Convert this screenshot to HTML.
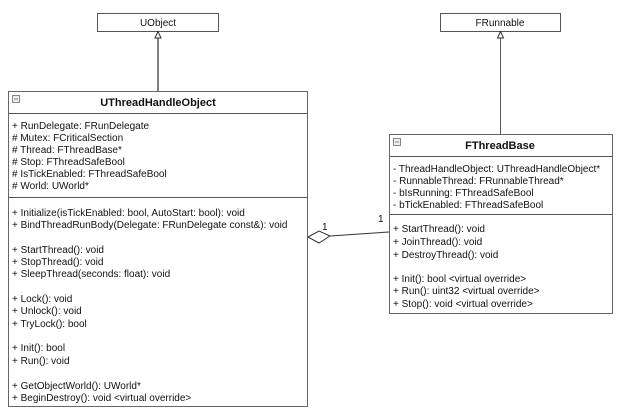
<!DOCTYPE html>
<html><head><meta charset="utf-8"><style>
html,body{margin:0;padding:0;background:#fff;width:624px;height:415px;overflow:hidden}
text{font-family:"Liberation Sans",Arial,sans-serif;font-size:10px;fill:#111}
.t{font-weight:bold;font-size:11px}
</style></head><body>
<svg width="624" height="415" viewBox="0 0 624 415" xmlns="http://www.w3.org/2000/svg">
<g stroke="#555" fill="none" stroke-width="1">
<rect x="97.5" y="13.5" width="121" height="18" fill="#fff"/>
<rect x="440.5" y="13.5" width="120" height="18" fill="#fff"/>
<line x1="158" y1="38" x2="158" y2="91" stroke-width="1.5"/>
<polygon points="158,31.5 155,38 161,38" stroke="#333"/>
<line x1="500.5" y1="38" x2="500.5" y2="134"/>
<polygon points="500.5,31.5 497.5,38 503.5,38" stroke="#333"/>
<rect x="8.5" y="91.5" width="299" height="315" fill="#fff" stroke="#666"/>
<line x1="8.5" y1="113.5" x2="307.5" y2="113.5"/>
<line x1="8.5" y1="197.5" x2="307.5" y2="197.5"/>
<rect x="389.5" y="134.5" width="223" height="179" fill="#fff" stroke="#666"/>
<line x1="389.5" y1="156.5" x2="612.5" y2="156.5"/>
<line x1="389.5" y1="214.5" x2="612.5" y2="214.5"/>
<line x1="330" y1="236" x2="389" y2="232" stroke="#333"/>
<polygon points="308,237 319,231 330,236 319,243" stroke="#333" fill="#fff"/>
<rect x="12.5" y="95.5" width="7" height="7" stroke="#888" fill="#eee"/>
<line x1="14" y1="99" x2="18" y2="99" stroke="#888"/>
<rect x="393.5" y="138.5" width="7" height="7" stroke="#888" fill="#eee"/>
<line x1="395" y1="142" x2="399" y2="142" stroke="#888"/>
</g>
<text x="158" y="26" text-anchor="middle">UObject</text>
<text x="500" y="26" text-anchor="middle">FRunnable</text>
<text class="t" x="158" y="106" text-anchor="middle">UThreadHandleObject</text>
<text class="t" x="500" y="149" text-anchor="middle">FThreadBase</text>
<text x="322" y="230">1</text>
<text x="378" y="222">1</text>
<g>
<text x="12" y="129">+ RunDelegate: FRunDelegate</text>
<text x="12" y="141">#  Mutex: FCriticalSection</text>
<text x="12" y="153">#  Thread: FThreadBase*</text>
<text x="12" y="165">#  Stop: FThreadSafeBool</text>
<text x="12" y="177">#  IsTickEnabled: FThreadSafeBool</text>
<text x="12" y="189">#  World: UWorld*</text>
<text x="12" y="216">+ Initialize(isTickEnabled: bool, AutoStart: bool): void</text>
<text x="12" y="228">+ BindThreadRunBody(Delegate: FRunDelegate const&amp;): void</text>
<text x="12" y="253">+ StartThread(): void</text>
<text x="12" y="265">+ StopThread(): void</text>
<text x="12" y="277">+ SleepThread(seconds: float): void</text>
<text x="12" y="302">+ Lock(): void</text>
<text x="12" y="314">+ Unlock(): void</text>
<text x="12" y="327">+ TryLock(): bool</text>
<text x="12" y="351">+ Init(): bool</text>
<text x="12" y="364">+ Run(): void</text>
<text x="12" y="389">+ GetObjectWorld(): UWorld*</text>
<text x="12" y="401">+ BeginDestroy(): void &lt;virtual override&gt;</text>
</g>
<g>
<text x="393" y="172">- ThreadHandleObject: UThreadHandleObject*</text>
<text x="393" y="184">- RunnableThread: FRunnableThread*</text>
<text x="393" y="196">- bIsRunning: FThreadSafeBool</text>
<text x="393" y="208">- bTickEnabled: FThreadSafeBool</text>
<text x="393" y="232">+ StartThread(): void</text>
<text x="393" y="245">+ JoinThread(): void</text>
<text x="393" y="258">+ DestroyThread(): void</text>
<text x="393" y="282">+ Init(): bool &lt;virtual override&gt;</text>
<text x="393" y="294">+ Run(): uint32 &lt;virtual override&gt;</text>
<text x="393" y="307">+ Stop(): void &lt;virtual override&gt;</text>
</g>
</svg>
</body></html>
